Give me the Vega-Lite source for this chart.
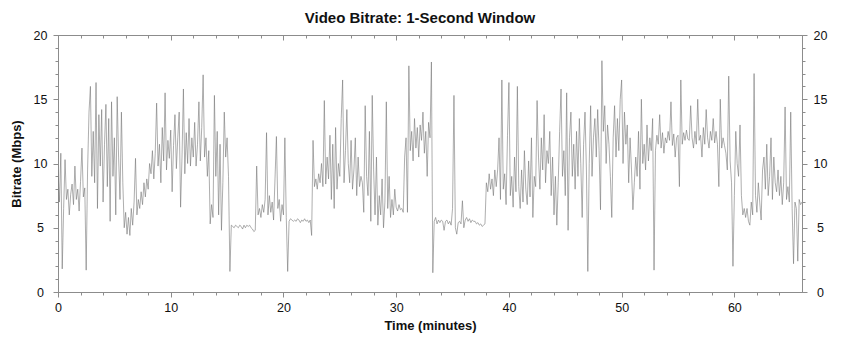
{
  "$schema": "https://vega.github.io/schema/vega-lite/v6.json",
  "width": 744,
  "height": 257,
  "autosize": {"type": "none"},
  "padding": {"left": 58, "top": 35, "right": 39, "bottom": 58},
  "background": "white",
  "title": {"text": "Video Bitrate: 1-Second Window", "font": "Liberation Sans", "fontSize": 15, "fontWeight": "bold", "color": "#111111", "anchor": "middle", "frame": "group", "dx": -10, "offset": 3},
  "config": {
    "view": {"stroke": "#8c8c8c", "strokeWidth": 1},
    "axis": {"grid": false, "domainColor": "#8c8c8c", "tickColor": "#8c8c8c", "labelFont": "Liberation Sans", "labelFontSize": 12.5, "labelColor": "#111111", "titleFont": "Liberation Sans", "titleFontSize": 13, "titleFontWeight": "bold", "titleColor": "#111111", "labelOverlap": false, "labelFlush": false}
  },
  "data": {"values": [
{"t":0,"b":9.5},{"t":0.125,"b":7.0},{"t":0.25,"b":10.8},{"t":0.375,"b":1.8},{"t":0.5,"b":6.5},{"t":0.625,"b":10.3},{"t":0.75,"b":7.2},{"t":0.875,"b":8.0},
{"t":1,"b":6.0},{"t":1.125,"b":7.6},{"t":1.25,"b":8.4},{"t":1.375,"b":6.8},{"t":1.5,"b":9.8},{"t":1.625,"b":7.2},{"t":1.75,"b":8.0},{"t":1.875,"b":6.3},
{"t":2,"b":8.6},{"t":2.125,"b":11.2},{"t":2.25,"b":7.4},{"t":2.375,"b":8.1},{"t":2.5,"b":1.7},{"t":2.625,"b":9.5},{"t":2.75,"b":14.0},{"t":2.875,"b":16.0},
{"t":3,"b":9.0},{"t":3.125,"b":12.5},{"t":3.25,"b":8.5},{"t":3.375,"b":16.3},{"t":3.5,"b":6.5},{"t":3.625,"b":13.8},{"t":3.75,"b":9.8},{"t":3.875,"b":14.2},
{"t":4,"b":7.0},{"t":4.125,"b":11.5},{"t":4.25,"b":14.6},{"t":4.375,"b":8.2},{"t":4.5,"b":13.5},{"t":4.625,"b":5.5},{"t":4.75,"b":14.8},{"t":4.875,"b":9.0},
{"t":5,"b":12.0},{"t":5.125,"b":6.0},{"t":5.25,"b":15.2},{"t":5.375,"b":10.5},{"t":5.5,"b":7.2},{"t":5.625,"b":14.0},{"t":5.75,"b":8.5},{"t":5.875,"b":5.0},
{"t":6,"b":6.2},{"t":6.125,"b":4.5},{"t":6.25,"b":5.8},{"t":6.375,"b":4.4},{"t":6.5,"b":6.5},{"t":6.625,"b":5.2},{"t":6.75,"b":7.0},{"t":6.875,"b":10.4},
{"t":7,"b":6.0},{"t":7.125,"b":7.2},{"t":7.25,"b":6.5},{"t":7.375,"b":7.8},{"t":7.5,"b":6.8},{"t":7.625,"b":8.5},{"t":7.75,"b":7.4},{"t":7.875,"b":8.8},
{"t":8,"b":8.0},{"t":8.125,"b":10.0},{"t":8.25,"b":9.2},{"t":8.375,"b":11.0},{"t":8.5,"b":8.8},{"t":8.625,"b":10.8},{"t":8.75,"b":14.7},{"t":8.875,"b":9.8},
{"t":9,"b":11.5},{"t":9.125,"b":8.5},{"t":9.25,"b":12.8},{"t":9.375,"b":10.2},{"t":9.5,"b":15.5},{"t":9.625,"b":9.5},{"t":9.75,"b":11.8},{"t":9.875,"b":10.4},
{"t":10,"b":12.6},{"t":10.125,"b":7.8},{"t":10.25,"b":11.4},{"t":10.375,"b":13.8},{"t":10.5,"b":9.6},{"t":10.625,"b":12.0},{"t":10.75,"b":14.0},{"t":10.875,"b":6.6},
{"t":11,"b":10.5},{"t":11.125,"b":15.8},{"t":11.25,"b":9.2},{"t":11.375,"b":12.4},{"t":11.5,"b":10.0},{"t":11.625,"b":13.5},{"t":11.75,"b":9.8},{"t":11.875,"b":12.0},
{"t":12,"b":10.5},{"t":12.125,"b":13.2},{"t":12.25,"b":9.8},{"t":12.375,"b":11.5},{"t":12.5,"b":14.8},{"t":12.625,"b":10.2},{"t":12.75,"b":12.8},{"t":12.875,"b":16.9},
{"t":13,"b":10.5},{"t":13.125,"b":12.0},{"t":13.25,"b":9.0},{"t":13.375,"b":11.0},{"t":13.5,"b":5.3},{"t":13.625,"b":6.8},{"t":13.75,"b":5.8},{"t":13.875,"b":15.3},
{"t":14,"b":9.0},{"t":14.125,"b":12.5},{"t":14.25,"b":6.0},{"t":14.375,"b":11.5},{"t":14.5,"b":4.8},{"t":14.625,"b":8.5},{"t":14.75,"b":14.0},{"t":14.875,"b":10.5},
{"t":15,"b":12.0},{"t":15.125,"b":9.0},{"t":15.25,"b":1.6},{"t":15.375,"b":5.2},{"t":15.5,"b":5.1},{"t":15.625,"b":5.0},{"t":15.75,"b":5.2},{"t":15.875,"b":5.1},
{"t":16,"b":5.0},{"t":16.125,"b":5.2},{"t":16.25,"b":5.1},{"t":16.375,"b":4.9},{"t":16.5,"b":5.2},{"t":16.625,"b":5.0},{"t":16.75,"b":5.2},{"t":16.875,"b":5.1},
{"t":17,"b":5.2},{"t":17.125,"b":5.0},{"t":17.25,"b":4.9},{"t":17.375,"b":4.7},{"t":17.5,"b":4.8},{"t":17.625,"b":9.8},{"t":17.75,"b":6.0},{"t":17.875,"b":6.5},
{"t":18,"b":5.8},{"t":18.125,"b":6.8},{"t":18.25,"b":6.2},{"t":18.375,"b":7.2},{"t":18.5,"b":12.4},{"t":18.625,"b":6.0},{"t":18.75,"b":7.5},{"t":18.875,"b":6.2},
{"t":19,"b":7.0},{"t":19.125,"b":5.6},{"t":19.25,"b":8.8},{"t":19.375,"b":12.1},{"t":19.5,"b":6.5},{"t":19.625,"b":7.2},{"t":19.75,"b":5.5},{"t":19.875,"b":6.8},
{"t":20,"b":6.0},{"t":20.125,"b":12.0},{"t":20.25,"b":5.8},{"t":20.375,"b":1.6},{"t":20.5,"b":5.5},{"t":20.625,"b":5.7},{"t":20.75,"b":5.6},{"t":20.875,"b":5.5},
{"t":21,"b":5.6},{"t":21.125,"b":5.5},{"t":21.25,"b":5.7},{"t":21.375,"b":5.6},{"t":21.5,"b":5.4},{"t":21.625,"b":5.6},{"t":21.75,"b":5.5},{"t":21.875,"b":5.7},
{"t":22,"b":5.5},{"t":22.125,"b":5.6},{"t":22.25,"b":5.4},{"t":22.375,"b":5.6},{"t":22.5,"b":4.4},{"t":22.625,"b":11.8},{"t":22.75,"b":8.2},{"t":22.875,"b":8.8},
{"t":23,"b":8.0},{"t":23.125,"b":9.2},{"t":23.25,"b":8.5},{"t":23.375,"b":10.0},{"t":23.5,"b":8.2},{"t":23.625,"b":14.9},{"t":23.75,"b":8.4},{"t":23.875,"b":10.5},
{"t":24,"b":8.8},{"t":24.125,"b":12.2},{"t":24.25,"b":7.2},{"t":24.375,"b":11.5},{"t":24.5,"b":6.5},{"t":24.625,"b":12.8},{"t":24.75,"b":8.0},{"t":24.875,"b":10.0},
{"t":25,"b":9.0},{"t":25.125,"b":13.5},{"t":25.25,"b":16.5},{"t":25.375,"b":8.5},{"t":25.5,"b":11.0},{"t":25.625,"b":14.2},{"t":25.75,"b":10.0},{"t":25.875,"b":8.5},
{"t":26,"b":11.8},{"t":26.125,"b":8.0},{"t":26.25,"b":9.5},{"t":26.375,"b":12.0},{"t":26.5,"b":7.5},{"t":26.625,"b":10.5},{"t":26.75,"b":8.2},{"t":26.875,"b":9.0},
{"t":27,"b":8.5},{"t":27.125,"b":6.2},{"t":27.25,"b":14.5},{"t":27.375,"b":9.0},{"t":27.5,"b":7.5},{"t":27.625,"b":12.5},{"t":27.75,"b":5.5},{"t":27.875,"b":15.3},
{"t":28,"b":9.5},{"t":28.125,"b":6.0},{"t":28.25,"b":10.5},{"t":28.375,"b":5.2},{"t":28.5,"b":7.5},{"t":28.625,"b":6.0},{"t":28.75,"b":8.8},{"t":28.875,"b":5.0},
{"t":29,"b":7.0},{"t":29.125,"b":14.8},{"t":29.25,"b":6.5},{"t":29.375,"b":9.0},{"t":29.5,"b":5.8},{"t":29.625,"b":7.2},{"t":29.75,"b":6.0},{"t":29.875,"b":8.0},
{"t":30,"b":6.6},{"t":30.125,"b":6.3},{"t":30.25,"b":6.8},{"t":30.375,"b":6.4},{"t":30.5,"b":6.5},{"t":30.625,"b":6.2},{"t":30.75,"b":10.5},{"t":30.875,"b":12.0},
{"t":31,"b":6.2},{"t":31.125,"b":17.6},{"t":31.25,"b":11.0},{"t":31.375,"b":12.5},{"t":31.5,"b":10.2},{"t":31.625,"b":13.5},{"t":31.75,"b":11.2},{"t":31.875,"b":12.8},
{"t":32,"b":10.5},{"t":32.125,"b":13.0},{"t":32.25,"b":11.8},{"t":32.375,"b":14.0},{"t":32.5,"b":10.8},{"t":32.625,"b":12.5},{"t":32.75,"b":9.0},{"t":32.875,"b":13.2},
{"t":33,"b":12.0},{"t":33.125,"b":17.9},{"t":33.25,"b":1.5},{"t":33.375,"b":5.5},{"t":33.5,"b":5.8},{"t":33.625,"b":5.3},{"t":33.75,"b":5.6},{"t":33.875,"b":5.4},
{"t":34,"b":5.6},{"t":34.125,"b":5.5},{"t":34.25,"b":4.8},{"t":34.375,"b":5.5},{"t":34.5,"b":5.6},{"t":34.625,"b":5.3},{"t":34.75,"b":5.5},{"t":34.875,"b":5.2},
{"t":35,"b":6.5},{"t":35.125,"b":15.3},{"t":35.25,"b":5.0},{"t":35.375,"b":4.5},{"t":35.5,"b":5.4},{"t":35.625,"b":5.5},{"t":35.75,"b":5.3},{"t":35.875,"b":7.1},
{"t":36,"b":5.0},{"t":36.125,"b":5.6},{"t":36.25,"b":5.8},{"t":36.375,"b":5.5},{"t":36.5,"b":5.7},{"t":36.625,"b":5.4},{"t":36.75,"b":5.6},{"t":36.875,"b":5.5},
{"t":37,"b":5.5},{"t":37.125,"b":5.3},{"t":37.25,"b":5.4},{"t":37.375,"b":5.2},{"t":37.5,"b":5.3},{"t":37.625,"b":5.1},{"t":37.75,"b":5.2},{"t":37.875,"b":5.3},
{"t":38,"b":8.5},{"t":38.125,"b":7.8},{"t":38.25,"b":9.2},{"t":38.375,"b":8.0},{"t":38.5,"b":8.8},{"t":38.625,"b":7.5},{"t":38.75,"b":9.5},{"t":38.875,"b":8.2},
{"t":39,"b":9.5},{"t":39.125,"b":12.0},{"t":39.25,"b":7.2},{"t":39.375,"b":16.5},{"t":39.5,"b":8.0},{"t":39.625,"b":9.2},{"t":39.75,"b":6.8},{"t":39.875,"b":12.2},
{"t":40,"b":16.3},{"t":40.125,"b":7.5},{"t":40.25,"b":9.0},{"t":40.375,"b":6.6},{"t":40.5,"b":10.5},{"t":40.625,"b":7.8},{"t":40.75,"b":16.0},{"t":40.875,"b":8.2},
{"t":41,"b":6.5},{"t":41.125,"b":9.5},{"t":41.25,"b":7.0},{"t":41.375,"b":11.0},{"t":41.5,"b":8.0},{"t":41.625,"b":6.8},{"t":41.75,"b":10.2},{"t":41.875,"b":7.4},
{"t":42,"b":12.0},{"t":42.125,"b":5.8},{"t":42.25,"b":9.0},{"t":42.375,"b":8.2},{"t":42.5,"b":14.9},{"t":42.625,"b":10.5},{"t":42.75,"b":8.0},{"t":42.875,"b":12.0},
{"t":43,"b":9.5},{"t":43.125,"b":13.8},{"t":43.25,"b":8.5},{"t":43.375,"b":11.0},{"t":43.5,"b":10.0},{"t":43.625,"b":12.5},{"t":43.75,"b":7.5},{"t":43.875,"b":10.5},
{"t":44,"b":6.0},{"t":44.125,"b":9.0},{"t":44.25,"b":5.2},{"t":44.375,"b":8.5},{"t":44.5,"b":12.5},{"t":44.625,"b":15.8},{"t":44.75,"b":9.0},{"t":44.875,"b":11.0},
{"t":45,"b":7.5},{"t":45.125,"b":15.5},{"t":45.25,"b":4.8},{"t":45.375,"b":12.0},{"t":45.5,"b":14.0},{"t":45.625,"b":9.0},{"t":45.75,"b":11.5},{"t":45.875,"b":8.0},
{"t":46,"b":12.5},{"t":46.125,"b":9.0},{"t":46.25,"b":13.5},{"t":46.375,"b":10.0},{"t":46.5,"b":5.8},{"t":46.625,"b":11.5},{"t":46.75,"b":14.0},{"t":46.875,"b":9.5},
{"t":47,"b":1.6},{"t":47.125,"b":10.0},{"t":47.25,"b":14.5},{"t":47.375,"b":9.0},{"t":47.5,"b":12.0},{"t":47.625,"b":13.5},{"t":47.75,"b":10.5},{"t":47.875,"b":14.2},
{"t":48,"b":11.0},{"t":48.125,"b":6.4},{"t":48.25,"b":18.0},{"t":48.375,"b":12.5},{"t":48.5,"b":14.5},{"t":48.625,"b":10.0},{"t":48.75,"b":13.0},{"t":48.875,"b":11.5},
{"t":49,"b":9.0},{"t":49.125,"b":5.8},{"t":49.25,"b":12.0},{"t":49.375,"b":14.5},{"t":49.5,"b":10.5},{"t":49.625,"b":13.5},{"t":49.75,"b":11.0},{"t":49.875,"b":15.0},
{"t":50,"b":16.5},{"t":50.125,"b":10.0},{"t":50.25,"b":14.0},{"t":50.375,"b":11.5},{"t":50.5,"b":13.0},{"t":50.625,"b":8.5},{"t":50.75,"b":12.0},{"t":50.875,"b":9.5},
{"t":51,"b":6.4},{"t":51.125,"b":8.5},{"t":51.25,"b":10.5},{"t":51.375,"b":9.0},{"t":51.5,"b":12.5},{"t":51.625,"b":8.0},{"t":51.75,"b":15.0},{"t":51.875,"b":10.0},
{"t":52,"b":11.5},{"t":52.125,"b":9.5},{"t":52.25,"b":13.0},{"t":52.375,"b":10.2},{"t":52.5,"b":12.0},{"t":52.625,"b":11.0},{"t":52.75,"b":13.5},{"t":52.875,"b":1.7},
{"t":53,"b":11.0},{"t":53.125,"b":12.2},{"t":53.25,"b":11.5},{"t":53.375,"b":13.8},{"t":53.5,"b":11.2},{"t":53.625,"b":12.4},{"t":53.75,"b":10.8},{"t":53.875,"b":12.0},
{"t":54,"b":11.6},{"t":54.125,"b":12.5},{"t":54.25,"b":11.8},{"t":54.375,"b":14.8},{"t":54.5,"b":11.4},{"t":54.625,"b":12.3},{"t":54.75,"b":10.5},{"t":54.875,"b":12.0},
{"t":55,"b":12.2},{"t":55.125,"b":8.2},{"t":55.25,"b":16.5},{"t":55.375,"b":11.5},{"t":55.5,"b":12.4},{"t":55.625,"b":11.8},{"t":55.75,"b":12.6},{"t":55.875,"b":11.9},
{"t":56,"b":11.8},{"t":56.125,"b":14.5},{"t":56.25,"b":12.0},{"t":56.375,"b":11.2},{"t":56.5,"b":12.5},{"t":56.625,"b":11.5},{"t":56.75,"b":15.0},{"t":56.875,"b":11.8},
{"t":57,"b":12.2},{"t":57.125,"b":10.5},{"t":57.25,"b":12.8},{"t":57.375,"b":11.5},{"t":57.5,"b":14.2},{"t":57.625,"b":12.0},{"t":57.75,"b":11.2},{"t":57.875,"b":12.5},
{"t":58,"b":11.8},{"t":58.125,"b":13.5},{"t":58.25,"b":11.6},{"t":58.375,"b":12.5},{"t":58.5,"b":11.5},{"t":58.625,"b":8.2},{"t":58.75,"b":15.0},{"t":58.875,"b":11.2},
{"t":59,"b":12.0},{"t":59.125,"b":11.4},{"t":59.25,"b":10.8},{"t":59.375,"b":9.5},{"t":59.5,"b":16.8},{"t":59.625,"b":10.2},{"t":59.75,"b":8.5},{"t":59.875,"b":2.0},
{"t":60,"b":7.5},{"t":60.125,"b":12.5},{"t":60.25,"b":10.0},{"t":60.375,"b":9.0},{"t":60.5,"b":13.0},{"t":60.625,"b":7.5},{"t":60.75,"b":6.0},{"t":60.875,"b":6.5},
{"t":61,"b":5.8},{"t":61.125,"b":6.5},{"t":61.25,"b":5.5},{"t":61.375,"b":5.2},{"t":61.5,"b":7.0},{"t":61.625,"b":6.0},{"t":61.75,"b":17.0},{"t":61.875,"b":7.5},
{"t":62,"b":6.2},{"t":62.125,"b":8.5},{"t":62.25,"b":7.0},{"t":62.375,"b":5.6},{"t":62.5,"b":9.5},{"t":62.625,"b":10.5},{"t":62.75,"b":8.0},{"t":62.875,"b":11.5},
{"t":63,"b":7.5},{"t":63.125,"b":9.0},{"t":63.25,"b":12.0},{"t":63.375,"b":7.2},{"t":63.5,"b":10.5},{"t":63.625,"b":8.5},{"t":63.75,"b":7.8},{"t":63.875,"b":9.5},
{"t":64,"b":7.5},{"t":64.125,"b":9.0},{"t":64.25,"b":6.8},{"t":64.375,"b":8.5},{"t":64.5,"b":14.4},{"t":64.625,"b":7.2},{"t":64.75,"b":8.2},{"t":64.875,"b":7.0},
{"t":65,"b":14.0},{"t":65.125,"b":6.5},{"t":65.25,"b":2.2},{"t":65.375,"b":7.0},{"t":65.5,"b":6.5},{"t":65.625,"b":2.4},{"t":65.75,"b":7.2},{"t":65.875,"b":6.8},
{"t":66,"b":7.0}
  ]},
  "layer": [
    {
      "mark": {"type": "line", "color": "#777777", "strokeWidth": 0.6, "clip": true},
      "encoding": {
        "x": {"field": "t", "type": "quantitative", "scale": {"domain": [0, 66], "nice": false, "zero": false},
              "axis": {"orient": "bottom", "title": "Time (minutes)", "values": [0,2,4,6,8,10,12,14,16,18,20,22,24,26,28,30,32,34,36,38,40,42,44,46,48,50,52,54,56,58,60,62,64],
                       "labelExpr": "datum.value % 10 === 0 ? datum.label : ''",
                       "tickSize": {"condition": {"test": "datum.value % 10 === 0", "value": 5}, "value": 3},
                       "labelPadding": 4, "titlePadding": 6}},
        "y": {"field": "b", "type": "quantitative", "scale": {"domain": [0, 20], "nice": false},
              "axis": {"orient": "left", "title": "Bitrate (Mbps)", "values": [0,1,2,3,4,5,6,7,8,9,10,11,12,13,14,15,16,17,18,19,20],
                       "labelExpr": "datum.value % 5 === 0 ? datum.label : ''",
                       "tickSize": {"condition": {"test": "datum.value % 5 === 0", "value": 5}, "value": 3},
                       "labelAlign": "center", "labelPadding": 13, "titlePadding": 10}}
      }
    },
    {
      "mark": {"type": "line", "opacity": 0, "strokeOpacity": 0},
      "encoding": {
        "x": {"field": "t", "type": "quantitative", "scale": {"domain": [0, 66], "nice": false, "zero": false},
              "axis": {"orient": "top", "title": null, "labels": false, "values": [0,2,4,6,8,10,12,14,16,18,20,22,24,26,28,30,32,34,36,38,40,42,44,46,48,50,52,54,56,58,60,62,64],
                       "tickSize": {"condition": {"test": "datum.value % 10 === 0", "value": -5}, "value": -3}}},
        "y": {"field": "b", "type": "quantitative", "scale": {"domain": [0, 20], "nice": false},
              "axis": {"orient": "right", "title": null, "values": [0,1,2,3,4,5,6,7,8,9,10,11,12,13,14,15,16,17,18,19,20],
                       "labelExpr": "datum.value % 5 === 0 ? datum.label : ''",
                       "tickSize": {"condition": {"test": "datum.value % 5 === 0", "value": 5}, "value": 3},
                       "labelAlign": "center", "labelPadding": 13}}
      }
    }
  ],
  "resolve": {"axis": {"x": "independent", "y": "independent"}}
}
